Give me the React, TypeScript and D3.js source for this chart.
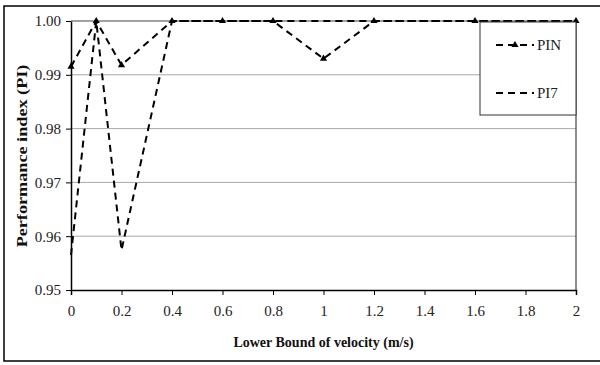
import React, { useEffect, useRef } from 'react';
import * as d3 from 'd3';

const velocity = [0, 0.1, 0.2, 0.4, 0.6, 0.8, 1.0, 1.2, 1.6, 2.0];
const pinValues = [0.9915, 1.0, 0.9918, 1.0, 1.0, 1.0, 0.993, 1.0, 1.0, 1.0];
const pi7Values = [0.9565, 1.0, 0.9574, 1.0, 1.0, 1.0, 1.0, 1.0, 1.0, 1.0];
const xTicks = [0, 0.2, 0.4, 0.6, 0.8, 1, 1.2, 1.4, 1.6, 1.8, 2];
const yTicks = [0.95, 0.96, 0.97, 0.98, 0.99, 1.0];
const seriesNames = ['PIN', 'PI7'];

const App = () => {
    const svgRef = useRef<SVGSVGElement>(null);

    useEffect(() => {
        const svg = d3.select(svgRef.current);
        svg.selectAll('*').remove();

        const width = 600;
        const height = 365;
        const margin = { top: 21, right: 24, bottom: 75, left: 71 };
        const font = '"Liberation Serif", "Times New Roman", serif';

        // outer frame (right side runs off the picture)
        svg.append('path')
            .attr('d', `M${width + 2},6 H4 V361 H${width + 2}`)
            .attr('fill', 'none')
            .attr('stroke', '#000')
            .attr('stroke-width', 1.5);

        const x = d3.scaleLinear()
            .domain([0, 2])
            .range([margin.left, width - margin.right]);

        const y = d3.scaleLinear()
            .domain([0.95, 1.0])
            .range([height - margin.bottom, margin.top]);

        // gridlines
        svg.append('g')
            .selectAll('line')
            .data(yTicks.slice(1, -1))
            .enter()
            .append('line')
            .attr('x1', x(0))
            .attr('x2', x(2))
            .attr('y1', d => y(d))
            .attr('y2', d => y(d))
            .attr('stroke', '#a8a8a8')
            .attr('stroke-width', 1);

        // plot border top / right
        svg.append('path')
            .attr('d', `M${x(0)},${y(1)} H${x(2)} V${y(0.95)}`)
            .attr('fill', 'none')
            .attr('stroke', '#444')
            .attr('stroke-width', 1.2);

        // X-axis
        const xAxis = svg.append('g')
            .attr('transform', `translate(0,${y(0.95)})`)
            .call(d3.axisBottom(x).tickValues(xTicks).tickSize(5).tickPadding(10)
                .tickFormat(d => d3.format('')(+d)));
        xAxis.select('.domain').attr('stroke', '#000').attr('stroke-width', 1.5);
        xAxis.selectAll('line').attr('stroke', '#000');
        xAxis.selectAll('text')
            .attr('font-family', font)
            .attr('font-size', 15)
            .attr('fill', '#222');

        // Y-axis
        const yAxis = svg.append('g')
            .attr('transform', `translate(${x(0)},0)`)
            .call(d3.axisLeft(y).tickValues(yTicks).tickSize(5).tickSizeOuter(0).tickPadding(5)
                .tickFormat(d3.format('.2f')));
        yAxis.select('.domain').attr('stroke', '#000').attr('stroke-width', 1.5);
        yAxis.selectAll('line').attr('stroke', '#000');
        yAxis.selectAll('text')
            .attr('font-family', font)
            .attr('font-size', 15)
            .attr('fill', '#222');

        const line = d3.line<number>()
            .x((_, i) => x(velocity[i]))
            .y(d => y(d));

        // PI7
        svg.append('path')
            .datum(pi7Values)
            .attr('d', line)
            .attr('fill', 'none')
            .attr('stroke', '#000')
            .attr('stroke-width', 2)
            .attr('stroke-dasharray', '7,5');

        // PIN
        svg.append('path')
            .datum(pinValues)
            .attr('d', line)
            .attr('fill', 'none')
            .attr('stroke', '#000')
            .attr('stroke-width', 2)
            .attr('stroke-dasharray', '7,5');

        const tri = d3.symbol().type(d3.symbolTriangle).size(22);
        svg.append('g')
            .selectAll('path')
            .data(pinValues)
            .enter()
            .append('path')
            .attr('d', tri)
            .attr('transform', (d, i) => `translate(${x(velocity[i])},${y(d)})`)
            .attr('fill', '#000');

        // legend
        const lg = svg.append('g');
        lg.append('rect')
            .attr('x', 480)
            .attr('y', 22)
            .attr('width', x(2) - 480)
            .attr('height', 93)
            .attr('fill', '#fff')
            .attr('stroke', '#333')
            .attr('stroke-width', 1);

        seriesNames.forEach((name, i) => {
            const ly = 45 + i * 48;
            lg.append('line')
                .attr('x1', 496)
                .attr('x2', 534)
                .attr('y1', ly)
                .attr('y2', ly)
                .attr('stroke', '#000')
                .attr('stroke-width', 2)
                .attr('stroke-dasharray', '7,5');
            if (i === 0) {
                lg.append('path')
                    .attr('d', tri)
                    .attr('transform', `translate(515,${ly})`)
                    .attr('fill', '#000');
            }
            lg.append('text')
                .attr('x', 537)
                .attr('y', ly + 5)
                .attr('font-family', font)
                .attr('font-size', 15)
                .attr('fill', '#222')
                .text(name);
        });

        // axis titles
        svg.append('text')
            .attr('x', (x(0) + x(2)) / 2)
            .attr('y', 347)
            .attr('text-anchor', 'middle')
            .attr('font-family', font)
            .attr('font-size', 14)
            .attr('font-weight', 'bold')
            .attr('fill', '#111')
            .text('Lower Bound of velocity (m/s)');

        svg.append('text')
            .attr('transform', `translate(27,156) rotate(-90) scale(1.3,1)`)
            .attr('text-anchor', 'middle')
            .attr('font-family', font)
            .attr('font-size', 14)
            .attr('font-weight', 'bold')
            .attr('fill', '#111')
            .text('Performance index (PI)');
    }, []);

    return (
        <svg ref={svgRef} width={600} height={365}
            style={{ position: 'absolute', left: 0, top: 0, background: '#fff' }}></svg>
    );
};

export default App;
